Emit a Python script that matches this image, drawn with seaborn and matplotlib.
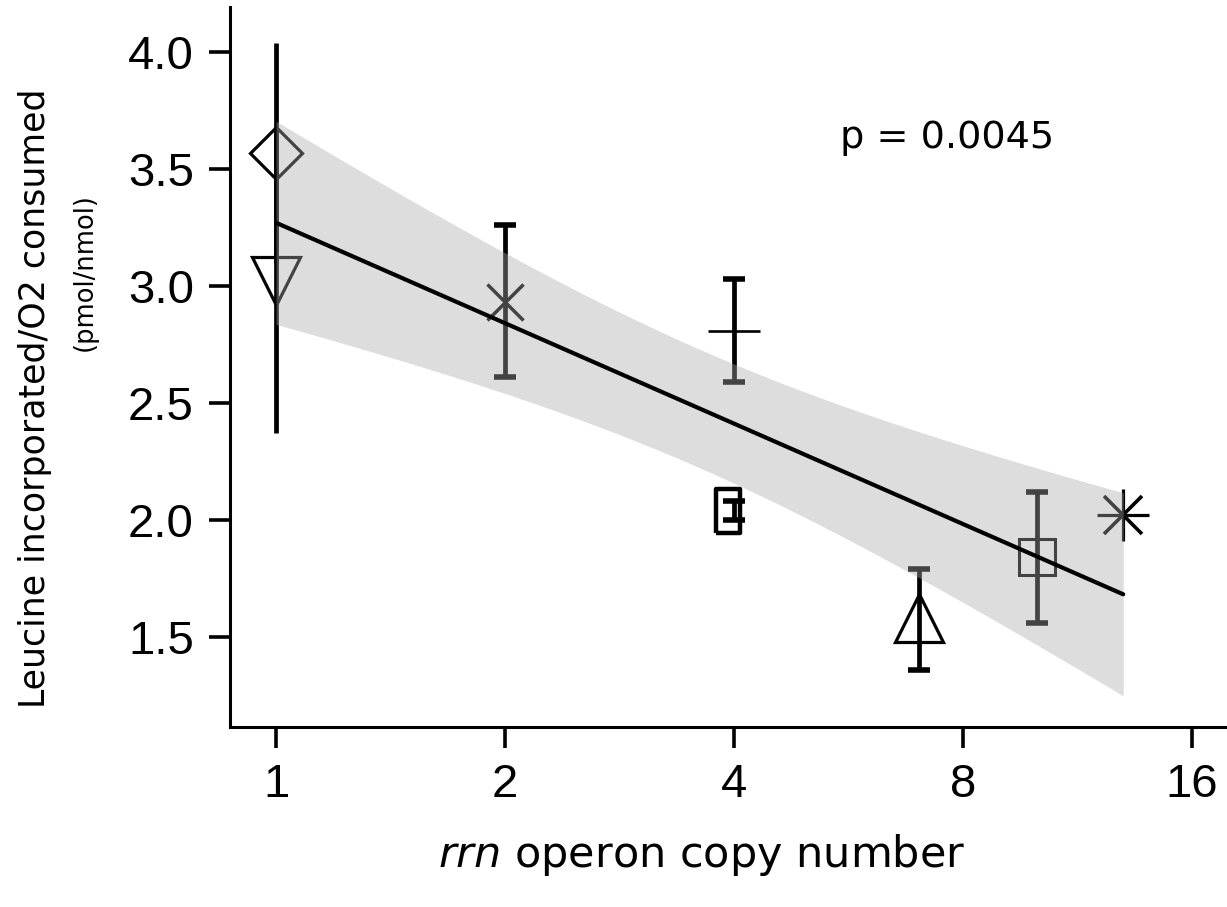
import numpy as np
import pandas as pd
import matplotlib
matplotlib.use("Agg")
import matplotlib.pyplot as plt
import seaborn as sns

# ---- data ----
copies   = [1, 1, 2, 4, 3.93, 7, 10, 13]
leucine  = [3.57, 3.02, 2.93, 2.81, 2.04, 1.58, 1.84, 2.02]
err_low  = [0.47, 0.65, 0.32, 0.22, 0.04, 0.22, 0.28, 0.0]
err_high = [0.47, 0.65, 0.33, 0.22, 0.04, 0.21, 0.28, 0.0]
markers  = ['D', 'v', 'x', '+', 'rect', '^', 's', 'star']
x_ticks  = [1, 2, 4, 8, 16]
y_ticks  = [1.5, 2.0, 2.5, 3.0, 3.5, 4.0]
p_text   = "p = 0.0045"

df = pd.DataFrame({"copies": copies, "leucine": leucine})

sns.set_style("ticks")
plt.rcParams['font.family'] = ['DejaVu Sans']
plt.rcParams['text.color'] = 'black'
plt.rcParams['axes.labelcolor'] = 'black'
plt.rcParams['xtick.color'] = 'black'
plt.rcParams['ytick.color'] = 'black'

fig = plt.figure(figsize=(12.27, 9.07), dpi=100)
ax = fig.add_axes([0.1875, 0.1985, 0.8125, 0.7935])
ax.set_xscale('log', base=2)

msize = {'D': 26.5, 'v': 34.5, 'x': 26.5, '+': 38, '^': 34.5, 's': 26.5}
mew = {'D': 2.3, 'v': 2.3, 'x': 2.5, '+': 1.9, '^': 2.3, 's': 2.2}
rect_marker = [(-0.55, -1), (0.55, -1), (0.55, 1), (-0.55, 1), (-0.55, -1)]
c = 'black'

for x, y, lo, hi, m in zip(copies, leucine, err_low, err_high, markers):
    if lo > 0 or hi > 0:
        cap = 0 if x == 1 else 8
        ex = 4 if m == 'rect' else x
        ax.errorbar([ex], [y], yerr=[[lo], [hi]], fmt='none', ecolor=c,
                    elinewidth=3.4, capsize=cap, capthick=4, zorder=3)
    if m == 'rect':
        ax.plot([x], [y], marker=rect_marker, ms=31, mfc='none', mec=c, mew=3.2,
                ls='none', zorder=4)
    elif m == 'star':
        ax.plot([x], [y], marker='x', ms=27, mec=c, mew=2.6,
                ls='none', zorder=4)
        ax.plot([x], [y], marker='+', ms=37.5, mec=c, mew=2.3,
                ls='none', zorder=4)
    else:
        ax.plot([x], [y], marker=m, ms=msize[m], mfc='none', mec=c,
                mew=mew[m], ls='none', zorder=4)

# regression line (y ~ log x) drawn by seaborn
sns.regplot(data=df, x="copies", y="leucine", logx=True, scatter=False,
            ci=None, color='black', ax=ax, truncate=True,
            line_kws=dict(lw=3.0, zorder=5))

# confidence band of the same fit (t-based, 90%), translucent over the marks
lx = np.log2(np.array(copies, float))
yy = np.array(leucine, float)
n = len(lx)
b1, b0 = np.polyfit(lx, yy, 1)
resid = yy - (b0 + b1 * lx)
s = np.sqrt(np.sum(resid ** 2) / (n - 2))
sxx = np.sum((lx - lx.mean()) ** 2)
grid = np.linspace(lx.min(), lx.max(), 200)
se = s * np.sqrt(1.0 / n + (grid - lx.mean()) ** 2 / sxx)
tval = 1.943  # t(0.95, df=6)
fit = b0 + b1 * grid
ax.fill_between(2 ** grid, fit - tval * se, fit + tval * se, color='#aaaaaa',
                alpha=0.4, lw=0, zorder=4.6)

ax.set_xlim(0.870, 17.8)
ax.set_ylim(1.115, 4.192)
ax.set_xticks(x_ticks)
ax.set_xticklabels([str(t) for t in x_ticks])
ax.set_yticks(y_ticks)
ax.set_yticklabels([f"{t:.1f}" for t in y_ticks])
ax.minorticks_off()

for sp in ['top', 'right']:
    ax.spines[sp].set_visible(False)
for sp in ['left', 'bottom']:
    ax.spines[sp].set_linewidth(2.2)
    ax.spines[sp].set_color('black')

ax.tick_params(axis='both', length=15, width=2.6, pad=11, colors='black',
               labelsize=34)
for lab in ax.get_xticklabels() + ax.get_yticklabels():
    lab.set_fontfamily('Liberation Sans')

ax.set_xlabel("")
ax.set_ylabel("")
fig.text(0.572, 0.057, r"$\it{rrn}$ operon copy number", ha='center',
         va='center', fontsize=31, family='DejaVu Sans')
fig.text(0.0285, 0.561, "Leucine incorporated/O2 consumed", rotation=90,
         ha='center', va='center', fontsize=25, family='DejaVu Sans')
fig.text(0.069, 0.70, "(pmol/nmol)", rotation=90, ha='center', va='center',
         fontsize=18.5, family='DejaVu Sans')

ax.text(0.612, 0.819, p_text, transform=ax.transAxes, ha='left', va='center',
        fontsize=27.5, family='DejaVu Sans')

fig.savefig("out.png", dpi=100)
